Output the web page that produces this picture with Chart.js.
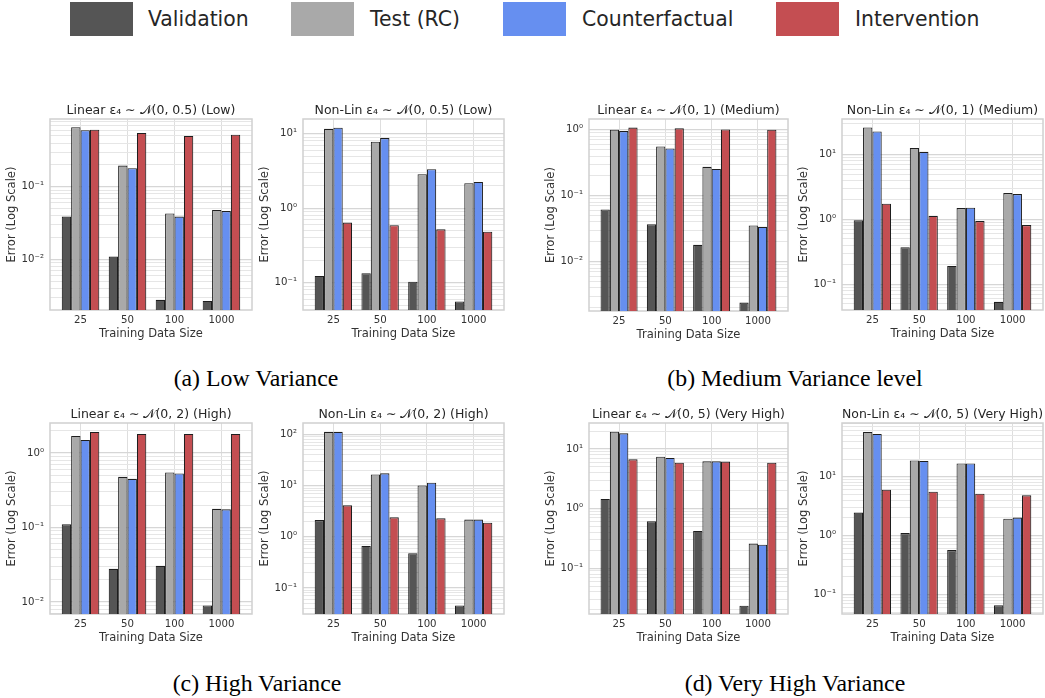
<!DOCTYPE html>
<html>
<head>
<meta charset="utf-8">
<script src="https://cdn.jsdelivr.net/npm/chart.js@4.4.1/dist/chart.umd.min.js"></script>
<style>
  html, body { margin: 0; padding: 0; background: #fff; }
  body { width: 1045px; height: 698px; position: relative; overflow: hidden; font-family: 'DejaVu Sans', sans-serif; }
  canvas { position: absolute; }
  .key { position: absolute; top: 2px; width: 63px; height: 34px; }
  .keytext { position: absolute; top: 19px; transform: translateY(-50%); font-size: 20.4px; color: #262626; white-space: nowrap; }
  .cap { position: absolute; font-family: 'Liberation Serif', serif; font-size: 23.8px; color: #000; transform: translate(-50%, -50%); white-space: nowrap; }
</style>
</head>
<body>
<div id="legend"></div>
<div class="cap" style="left:256px; top:378px;">(a) Low Variance</div>
<div class="cap" style="left:795px; top:378px;">(b) Medium Variance level</div>
<div class="cap" style="left:257px; top:683px;">(c) High Variance</div>
<div class="cap" style="left:795px; top:683px;">(d) Very High Variance</div>
<script>
// Training set sizes on the x axis
const sizes = ['25', '50', '100', '1000'];
const seriesNames = ['Validation', 'Test (RC)', 'Counterfactual', 'Intervention'];
const seriesColors = ['#555555', '#a9a9a9', '#668ff0', '#c44e52'];

const panelTitles = [
  'Linear ε₄ ∼ 𝒩(0, 0.5) (Low)',
  'Non-Lin ε₄ ∼ 𝒩(0, 0.5) (Low)',
  'Linear ε₄ ∼ 𝒩(0, 1) (Medium)',
  'Non-Lin ε₄ ∼ 𝒩(0, 1) (Medium)',
  'Linear ε₄ ∼ 𝒩(0, 2) (High)',
  'Non-Lin ε₄ ∼ 𝒩(0, 2) (High)',
  'Linear ε₄ ∼ 𝒩(0, 5) (Very High)',
  'Non-Lin ε₄ ∼ 𝒩(0, 5) (Very High)'
];

// Errors per panel: rows follow seriesNames, columns follow sizes
const linearLow = [
  [0.039, 0.011, 0.0028, 0.0027],
  [0.66, 0.196, 0.043, 0.048],
  [0.60, 0.18, 0.039, 0.0465],
  [0.61, 0.55, 0.50, 0.52]
];
const nonlinLow = [
  [0.123, 0.134, 0.103, 0.056],
  [11.6, 7.8, 2.85, 2.16],
  [12.0, 8.7, 3.33, 2.25],
  [0.64, 0.59, 0.52, 0.484]
];
const linearMedium = [
  [0.062, 0.037, 0.018, 0.0024],
  [1.0, 0.557, 0.274, 0.0355],
  [0.955, 0.52, 0.255, 0.0338],
  [1.08, 1.05, 1.01, 1.0]
];
const nonlinMedium = [
  [0.977, 0.374, 0.192, 0.0535],
  [26.4, 12.7, 1.5, 2.56],
  [22.9, 11.1, 1.52, 2.47],
  [1.75, 1.14, 0.944, 0.818]
];
const linearHigh = [
  [0.110, 0.0279, 0.0306, 0.0090],
  [1.69, 0.478, 0.546, 0.178],
  [1.49, 0.449, 0.53, 0.175],
  [1.91, 1.80, 1.80, 1.80]
];
const nonlinHigh = [
  [2.13, 0.665, 0.478, 0.0456],
  [113, 16.6, 10.1, 2.17],
  [113, 17.4, 11.4, 2.17],
  [4.13, 2.41, 2.30, 1.89]
];
const linearVeryHigh = [
  [1.45, 0.614, 0.422, 0.0236],
  [19.5, 7.43, 6.22, 0.259],
  [18.3, 7.06, 6.22, 0.249],
  [6.72, 5.9, 6.15, 5.9]
];
const nonlinVeryHigh = [
  [2.47, 1.11, 0.571, 0.0662],
  [57.5, 18.9, 16.8, 1.95],
  [53.2, 18.6, 16.8, 2.03],
  [6.03, 5.58, 5.17, 4.85]
];

// Log-axis limits of each panel
const yLimits = [
  [0.00203, 0.855], [0.043, 15.7], [0.00179, 1.455], [0.040, 35.6],
  [0.0069, 2.52], [0.031, 168], [0.0171, 27.3], [0.047, 81.7]
];

const panelValues = [linearLow, nonlinLow, linearMedium, nonlinMedium,
                     linearHigh, nonlinHigh, linearVeryHigh, nonlinVeryHigh];

// Plot-area rectangles [left, top, right, bottom] in page pixels
const plotBoxes = [
  [50, 119, 252, 310], [303, 119, 504, 310], [589, 119, 788, 311], [842, 119, 1043, 310],
  [50, 423, 252, 614], [303, 423, 504, 614], [589, 423, 788, 614], [842, 423, 1043, 614]
];

Chart.defaults.font.family = "'DejaVu Sans', sans-serif";
Chart.defaults.color = '#333';

const SUP = { '-': '⁻', '0': '⁰', '1': '¹', '2': '²', '3': '³', '4': '⁴', '5': '⁵', '6': '⁶', '7': '⁷', '8': '⁸', '9': '⁹' };
function powLabel(v) {
  const e = Math.round(Math.log10(v));
  return '10' + String(e).split('').map(c => SUP[c]).join('');
}

function logTicks(min, max) {
  const out = [];
  for (let e = Math.floor(Math.log10(min)); e <= Math.ceil(Math.log10(max)); e++) {
    for (let m = 1; m <= 9; m++) {
      const v = m * Math.pow(10, e);
      if (v > min * 1.0001 && v < max * 0.9999) out.push({ value: v, major: m === 1 });
    }
  }
  return out;
}

// Light frame around the plotting area
const framePlugin = {
  id: 'frame',
  beforeDatasetsDraw(chart) {
    const { ctx, chartArea: a } = chart;
    ctx.save();
    ctx.strokeStyle = '#d0d0d0';
    ctx.lineWidth = 1.5;
    ctx.strokeRect(a.left, a.top, a.right - a.left, a.bottom - a.top);
    ctx.restore();
  }
};

// Legend row
const legend = document.getElementById('legend');
const keyLeft = [70, 291, 503, 776];
const textLeft = [148, 370, 582, 855];
seriesNames.forEach((name, k) => {
  const sq = document.createElement('div');
  sq.className = 'key';
  sq.style.left = keyLeft[k] + 'px';
  sq.style.background = seriesColors[k];
  legend.appendChild(sq);
  const tx = document.createElement('div');
  tx.className = 'keytext';
  tx.style.left = textLeft[k] + 'px';
  tx.textContent = name;
  legend.appendChild(tx);
});

function makePanel(i) {
  const [L, T, R, B] = plotBoxes[i];
  const [ymin, ymax] = yLimits[i];
  const values = panelValues[i];
  const w = R - L + 52, h = B - T + 54;
  const canvas = document.createElement('canvas');
  canvas.width = w; canvas.height = h;
  canvas.style.left = (L - 50) + 'px';
  canvas.style.top = (T - 22) + 'px';
  canvas.style.width = w + 'px';
  canvas.style.height = h + 'px';
  document.body.appendChild(canvas);

  new Chart(canvas, {
    type: 'bar',
    data: {
      datasets: seriesNames.map((name, k) => ({
        label: name,
        data: values[k].map((v, j) => ({ x: j, y: v })),
        backgroundColor: seriesColors[k],
        borderColor: '#1e1e1e',
        borderWidth: 1.1,
        categoryPercentage: 0.8,
        barPercentage: 1.0
      }))
    },
    options: {
      responsive: false,
      animation: false,
      devicePixelRatio: 1,
      layout: { padding: { right: 2 } },
      plugins: {
        legend: { display: false },
        tooltip: { enabled: false },
        title: {
          display: true,
          text: panelTitles[i],
          fullSize: false,
          color: '#262626',
          font: { size: 12.5, weight: 'normal' },
          padding: { top: 6, bottom: 1 }
        }
      },
      scales: {
        x: {
          type: 'linear',
          offset: false,
          min: -0.65,
          max: 3.65,
          afterBuildTicks: s => { s.ticks = sizes.map((_, j) => ({ value: j })); },
          afterFit: s => { s.height = 32; },
          ticks: {
            autoSkip: false,
            maxRotation: 0,
            padding: 4,
            font: { size: 10.2 },
            color: '#333',
            callback: v => sizes[v]
          },
          grid: { color: '#dedede', lineWidth: 1, drawTicks: false, offset: false },
          border: { display: false },
          title: {
            display: true,
            text: 'Training Data Size',
            color: '#333',
            font: { size: 11.5 },
            padding: { top: 0, bottom: 1.2 }
          }
        },
        y: {
          type: 'logarithmic',
          min: ymin,
          max: ymax,
          afterBuildTicks: s => { s.ticks = logTicks(ymin, ymax); },
          afterFit: s => { s.width = 50; },
          ticks: {
            autoSkip: false,
            padding: 6,
            font: { size: 10.2 },
            color: '#333',
            callback: (v, idx, ticks) => (ticks[idx] && ticks[idx].major) ? powLabel(v) : ''
          },
          grid: {
            drawTicks: false,
            color: c => (c.tick && c.tick.major) ? '#d6d6d6' : '#e6e6e6',
            lineWidth: c => (c.tick && c.tick.major) ? 1.2 : 1
          },
          border: { display: false },
          title: {
            display: true,
            text: 'Error (Log Scale)',
            color: '#333',
            font: { size: 11.5 },
            padding: { top: 5.4, bottom: 0 }
          }
        }
      }
    },
    plugins: [framePlugin]
  });
}

for (let i = 0; i < plotBoxes.length; i++) makePanel(i);
</script>
</body>
</html>
